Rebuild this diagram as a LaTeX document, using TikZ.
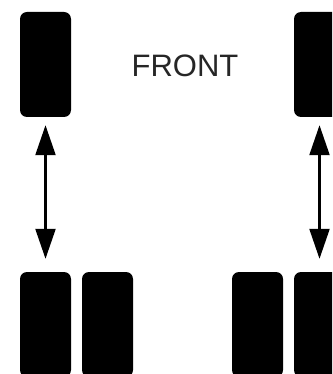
\documentclass[tikz,border=0pt]{standalone}
\usepackage{fontspec}
\setmainfont{Liberation Sans}
\usepackage{tikz}
\usetikzlibrary{arrows.meta}

\begin{document}
\begin{tikzpicture}[x=1pt,y=-1pt]
		\tikzstyle{tire}=[fill=black,rounded corners=7pt,minimum width=51pt,minimum height=105pt,inner sep=0pt]
		\tikzstyle{link}=[line width=2.2pt,{Triangle[length=30pt,width=20pt]}-{Triangle[length=30pt,width=20pt]},shorten <=8pt,shorten >=13pt]
		\clip (0,0) rectangle (332,374);
		
		\node[tire](fl) at (45.5,64.5){};
		\node[tire](fr) at (319.5,64.5){};
		
		\node[tire](rl1) at (45.5,324.5){};
		\node[tire](rl2) at (107.5,324.5){};
		\node[tire](rr1) at (257.5,324.5){};
		\node[tire](rr2) at (319.5,324.5){};
		
		\node[anchor=base,text=black!85,font=\fontsize{31}{33}\selectfont](front) at (185,77){FRONT};
		
		\draw[link] (fl) -- (rl1);
		\draw[link] (fr) -- (rr2);
\end{tikzpicture}
\end{document}
